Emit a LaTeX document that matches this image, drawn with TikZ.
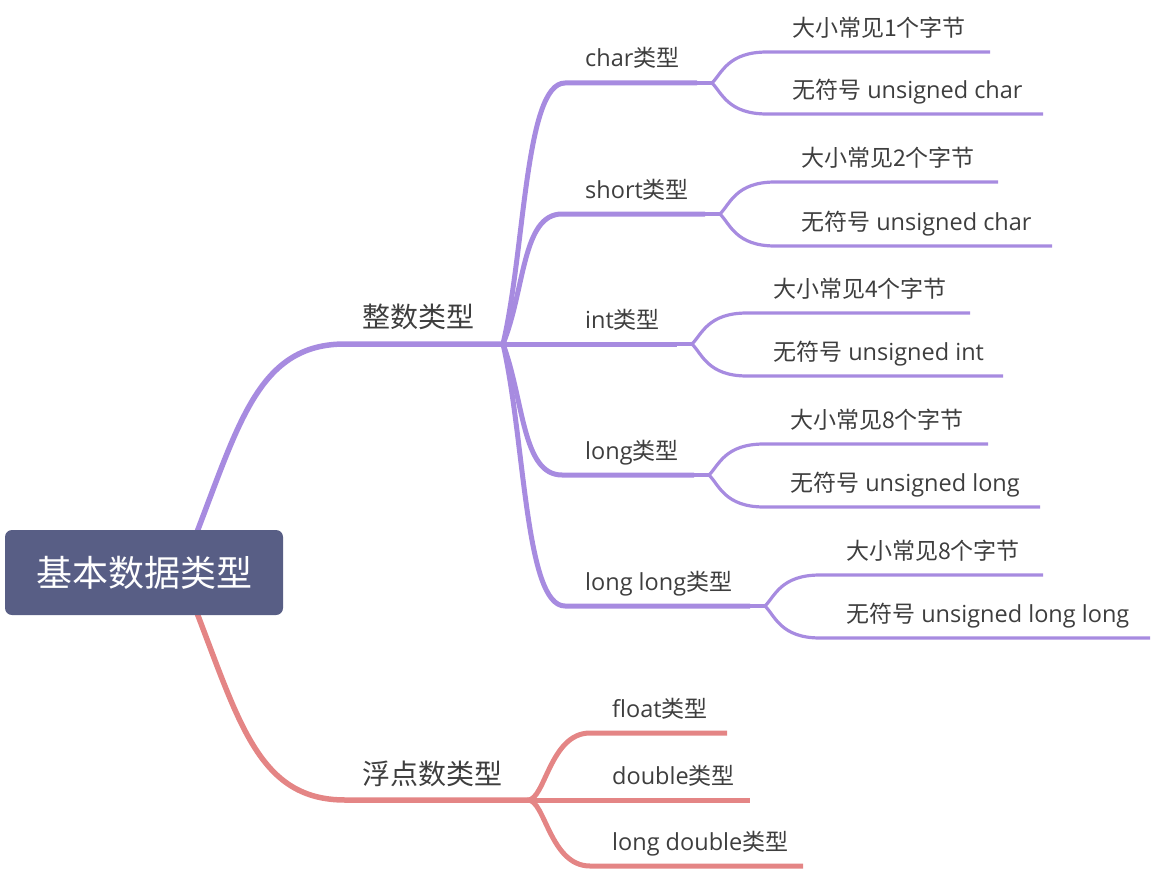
\documentclass[tikz,border=0pt]{standalone}
\usepackage{fontspec}
\setmainfont{Open Sans}
\newfontfamily\cjk{Noto Sans CJK SC}
\definecolor{pur}{HTML}{A78BE0}
\definecolor{mmred}{HTML}{E48585}
\definecolor{rootc}{HTML}{585E85}
\definecolor{txt}{HTML}{3E3E3E}
\tikzset{
  rootbox/.style={fill=rootc, rounded corners=7, minimum width=278, minimum height=85, inner sep=0, text=white, font=\cjk\fontsize{36}{40}\selectfont},
  mainlbl/.style={anchor=base west, inner sep=0, text=txt, font=\cjk\fontsize{28}{32}\selectfont},
  sublbl/.style={anchor=base west, inner sep=0, text=txt, font=\fontsize{23.5}{27}\selectfont},
  trunkP/.style={pur, line width=5.5},
  midP/.style={pur, line width=5},
  leafP/.style={pur, line width=3.2},
  trunkR/.style={mmred, line width=5.5},
  midR/.style={mmred, line width=5},
}
\newcommand{\cj}[1]{{\cjk\fontsize{23}{27}\selectfont #1}}
\begin{document}
\begin{tikzpicture}[x=1pt,y=-1pt]
\useasboundingbox (0,0) rectangle (1156,872);

% ---------- coordinates ----------
\coordinate (rA) at (197,532);
\coordinate (rB) at (197,613);
\coordinate (iH) at (345,344);
\coordinate (J1) at (503,344);
\coordinate (fH) at (345,800);
\coordinate (J2) at (528,800);

% ---------- integer trunk ----------
\draw[trunkP] (rA) .. controls (240,420) and (260,344) .. (iH) -- (J1);

% char
\coordinate (cS) at (565,83); \coordinate (cE) at (697,83); \coordinate (cJ) at (712,83);
\coordinate (cU0) at (767,52); \coordinate (cU1) at (990,52);
\coordinate (cL0) at (767,114); \coordinate (cL1) at (1043,114);
\draw[midP] (J1) .. controls (525,250) and (525,83) .. (cS) -- (cE);
\draw[leafP] (cE) -- (cJ);
\draw[leafP] (cJ) .. controls (722,73) and (728,52) .. (cU0) -- (cU1);
\draw[leafP] (cJ) .. controls (722,93) and (728,114) .. (cL0) -- (cL1);

% short
\coordinate (sS) at (562,214); \coordinate (sE) at (705,214); \coordinate (sJ) at (720,214);
\coordinate (sU0) at (775,182); \coordinate (sU1) at (998,182);
\coordinate (sL0) at (775,246); \coordinate (sL1) at (1052,246);
\draw[midP] (J1) .. controls (525,290) and (522,214) .. (sS) -- (sE);
\draw[leafP] (sE) -- (sJ);
\draw[leafP] (sJ) .. controls (730,204) and (736,182) .. (sU0) -- (sU1);
\draw[leafP] (sJ) .. controls (730,224) and (736,246) .. (sL0) -- (sL1);

% int
\coordinate (nE) at (677,344); \coordinate (nJ) at (692,344);
\coordinate (nU0) at (747,313); \coordinate (nU1) at (970,313);
\coordinate (nL0) at (747,376); \coordinate (nL1) at (1003,376);
\draw[midP] (J1) -- (nE);
\draw[leafP] (nE) -- (nJ);
\draw[leafP] (nJ) .. controls (702,334) and (708,313) .. (nU0) -- (nU1);
\draw[leafP] (nJ) .. controls (702,354) and (708,376) .. (nL0) -- (nL1);

% long
\coordinate (lS) at (562,475); \coordinate (lE) at (694,475); \coordinate (lJ) at (709,475);
\coordinate (lU0) at (764,444); \coordinate (lU1) at (988,444);
\coordinate (lL0) at (764,507); \coordinate (lL1) at (1040,507);
\draw[midP] (J1) .. controls (524,400) and (522,475) .. (lS) -- (lE);
\draw[leafP] (lE) -- (lJ);
\draw[leafP] (lJ) .. controls (719,465) and (725,444) .. (lU0) -- (lU1);
\draw[leafP] (lJ) .. controls (719,485) and (725,507) .. (lL0) -- (lL1);

% long long
\coordinate (gS) at (565,606); \coordinate (gE) at (750,606); \coordinate (gJ) at (765,606);
\coordinate (gU0) at (820,575); \coordinate (gU1) at (1043,575);
\coordinate (gL0) at (820,638); \coordinate (gL1) at (1150,638);
\draw[midP] (J1) .. controls (525,440) and (525,606) .. (gS) -- (gE);
\draw[leafP] (gE) -- (gJ);
\draw[leafP] (gJ) .. controls (775,596) and (781,575) .. (gU0) -- (gU1);
\draw[leafP] (gJ) .. controls (775,616) and (781,638) .. (gL0) -- (gL1);

% ---------- float trunk ----------
\draw[trunkR] (rB) .. controls (240,725) and (260,800) .. (fH) -- (J2);
\coordinate (fS) at (590,733); \coordinate (fE) at (727,733);
\coordinate (dE) at (750,800);
\coordinate (ldS) at (590,866); \coordinate (ldE) at (803,866);
\draw[midR] (J2) .. controls (545,800) and (550,733) .. (fS) -- (fE);
\draw[midR] (J2) -- (dE);
\draw[midR] (J2) .. controls (545,800) and (550,866) .. (ldS) -- (ldE);

% ---------- root ----------
\node[rootbox] (root) at (144,572.5) {基本数据类型};

% ---------- labels ----------
\node[mainlbl] (int) at (362,327) {整数类型};
\node[mainlbl] (flt) at (362,784) {浮点数类型};

\node[sublbl] (char) at (585,67) {char\cj{类型}};
\node[sublbl] (short) at (585,198) {short\cj{类型}};
\node[sublbl] (intt) at (585,328) {int\cj{类型}};
\node[sublbl] (long) at (585,459) {long\cj{类型}};
\node[sublbl] (llong) at (585,590) {long long\cj{类型}};

\node[sublbl] (c1) at (792,36.5) {\cj{大小常见1个字节}};
\node[sublbl] (c2) at (792,98.5) {\cj{无符号} unsigned char};
\node[sublbl] (s1) at (801,166.5) {\cj{大小常见2个字节}};
\node[sublbl] (s2) at (801,230.5) {\cj{无符号} unsigned char};
\node[sublbl] (n1) at (773,297.5) {\cj{大小常见4个字节}};
\node[sublbl] (n2) at (773,360.5) {\cj{无符号} unsigned int};
\node[sublbl] (l1) at (790,428.5) {\cj{大小常见8个字节}};
\node[sublbl] (l2) at (790,491.5) {\cj{无符号} unsigned long};
\node[sublbl] (g1) at (846,559.5) {\cj{大小常见8个字节}};
\node[sublbl] (g2) at (846,622.5) {\cj{无符号} unsigned long long};

\node[sublbl] (fl) at (612,717) {float\cj{类型}};
\node[sublbl] (db) at (612,784) {double\cj{类型}};
\node[sublbl] (ld) at (612,850) {long double\cj{类型}};
\end{tikzpicture}
\end{document}
